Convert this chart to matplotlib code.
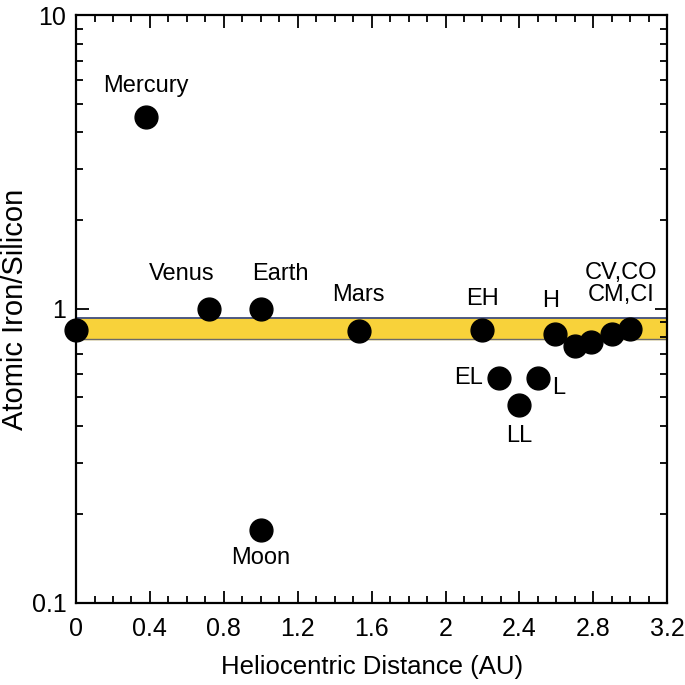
import numpy as np
import matplotlib.pyplot as plt
from matplotlib.ticker import FixedLocator, MultipleLocator, NullFormatter

plt.rcParams["font.family"] = ["Liberation Sans", "DejaVu Sans"]

# heliocentric distance (AU) and atomic Fe/Si ratio
names = ["", "Mercury", "Venus", "Earth", "Moon", "Mars", "EH", "EL", "LL", "L",
         "H", "", "", "", ""]
dist = [0.0, 0.38, 0.72, 1.0, 1.0, 1.53, 2.2, 2.29, 2.4, 2.5, 2.59, 2.7, 2.79, 2.9, 3.0]
fe_si = [0.85, 4.5, 1.0, 1.0, 0.177, 0.84, 0.85, 0.58, 0.47, 0.58, 0.82, 0.75, 0.77, 0.82, 0.855]

# label offsets in points (dx, dy) relative to each point
offsets = {"Mercury": (0, 22), "Venus": (-20, 25), "Earth": (14, 25), "Moon": (0, -20),
           "Mars": (0, 26), "EH": (0, 22), "EL": (-22, 0), "LL": (0, -22),
           "L": (15, -7), "H": (-3, 24)}

band_lo, band_hi = 0.79, 0.93

fig = plt.figure(figsize=(6.85, 6.85), dpi=100)
ax = fig.add_axes([0.111, 0.120, 0.863, 0.858])

ax.axhspan(band_lo, band_hi, color="#F8D23A", zorder=1)
ax.axhline(band_hi, color="#3F4E80", lw=1.3, zorder=2)
ax.axhline(band_lo, color="#6A6A6A", lw=1.0, zorder=2)

ax.scatter(dist, fe_si, s=270, color="black", zorder=3, clip_on=False)

for n, x, y in zip(names, dist, fe_si):
    if not n:
        continue
    dx, dy = offsets[n]
    ax.annotate(n, (x, y), xytext=(dx, dy), textcoords="offset points",
                ha="center", va="center", fontsize=17)

ax.annotate("CV,CO\nCM,CI", (2.95, 0.84), xytext=(0, 34), textcoords="offset points",
            ha="center", va="center", fontsize=17, linespacing=1.0)

ax.set_yscale("log")
ax.set_xlim(0, 3.2)
ax.set_ylim(0.1, 10)
ax.set_xticks([0, 0.4, 0.8, 1.2, 1.6, 2, 2.4, 2.8, 3.2])
ax.set_xticklabels(["0", "0.4", "0.8", "1.2", "1.6", "2", "2.4", "2.8", "3.2"])
ax.xaxis.set_minor_locator(MultipleLocator(0.1))
ax.set_yticks([0.1, 1, 10])
ax.set_yticklabels(["0.1", "1", "10"])
ax.yaxis.set_minor_locator(FixedLocator(
    [k * 10.0 ** e for e in (-1, 0) for k in range(2, 10)]))
ax.yaxis.set_minor_formatter(NullFormatter())

ax.tick_params(which="both", direction="in", top=True, right=True, width=1.3,
               labelsize=18)
ax.tick_params(axis="x", pad=10)
ax.tick_params(axis="y", pad=7)
ax.tick_params(which="major", length=9)
ax.tick_params(which="minor", length=5)
for s in ax.spines.values():
    s.set_linewidth(1.6)

ax.set_xlabel("Heliocentric Distance (AU)", fontsize=18.5, labelpad=10)
ax.set_ylabel("Atomic Iron/Silicon", fontsize=21, labelpad=2)

fig.savefig("out.png", dpi=100)
